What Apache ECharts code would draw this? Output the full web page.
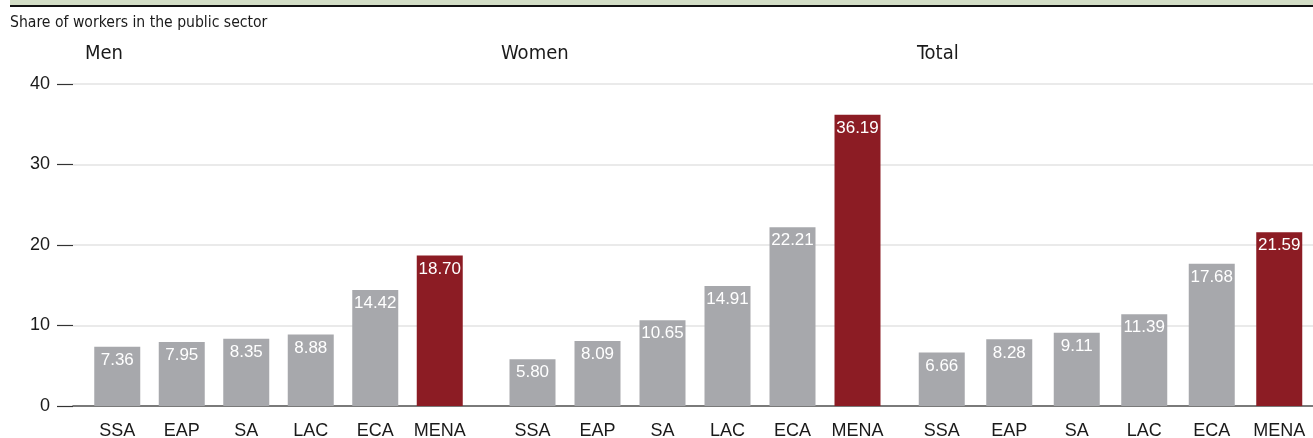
<!DOCTYPE html>
<html>
<head>
<meta charset="utf-8">
<script src="https://cdn.jsdelivr.net/npm/echarts@6/dist/echarts.min.js"></script>
<style>
  html, body { margin: 0; padding: 0; background: #fff; }
  #chart { width: 1313px; height: 438px; }
</style>
</head>
<body>
<div id="chart"></div>
<script>
// Regions shown along each panel's axis
const regions = ['SSA', 'EAP', 'SA', 'LAC', 'ECA', 'MENA'];

// Share of workers in the public sector (%), by sex
const menValues = [7.36, 7.95, 8.35, 8.88, 14.42, 18.70];
const womenValues = [5.80, 8.09, 10.65, 14.91, 22.21, 36.19];
const totalValues = [6.66, 8.28, 9.11, 11.39, 17.68, 21.59];

const panelTitles = ['Men', 'Women', 'Total'];
const yTicks = [0, 10, 20, 30, 40];

const GRAY = '#a7a8ac';
const RED = '#8c1c24';
const highlight = 'MENA';

const condensed = '"DejaVu Sans Condensed", "Liberation Sans Narrow", "DejaVu Sans", sans-serif';
const sans = '"Liberation Sans", Arial, sans-serif';

const TOP = 84, BOTTOM = 32;
const panels = [
  { left: 85, width: 387, values: menValues },
  { left: 500, width: 390, values: womenValues },
  { left: 908, width: 405, values: totalValues }
];

// Fixed plot rectangles: keep labels from resizing the panels
const grids = [{ left: 73, right: 0, top: TOP, bottom: BOTTOM, outerBoundsMode: 'none' }];
const xAxes = [{
  gridIndex: 0, type: 'value', min: 0, max: 1,
  axisLabel: { show: false }, axisTick: { show: false }, splitLine: { show: false },
  axisLine: { show: true, lineStyle: { color: '#555', width: 1.5 } }
}];
const yAxes = [{
  gridIndex: 0, type: 'value', min: yTicks[0], max: yTicks[yTicks.length - 1], interval: 10,
  axisLine: { show: false },
  axisTick: { show: true, length: 16, lineStyle: { color: '#333', width: 1.2 } },
  axisLabel: { margin: 23, fontSize: 18, color: '#1a1a1a', fontFamily: sans },
  splitLine: { show: true, lineStyle: { color: '#e3e3e3', width: 1.5 } }
}];
const series = [];

panels.forEach((p, i) => {
  const gi = i + 1;
  grids.push({ left: p.left, width: p.width, top: TOP, bottom: BOTTOM, outerBoundsMode: 'none' });
  xAxes.push({
    gridIndex: gi, type: 'category', data: regions,
    axisLine: { show: false }, axisTick: { show: false },
    axisLabel: { margin: 16, fontSize: 18, color: '#1a1a1a', fontFamily: sans, interval: 0 }
  });
  yAxes.push({ gridIndex: gi, type: 'value', min: 0, max: 40, show: false, splitLine: { show: false } });
  series.push({
    type: 'bar', xAxisIndex: gi, yAxisIndex: gi, barWidth: 46,
    data: p.values.map((v, k) => ({
      value: v,
      itemStyle: { color: regions[k] === highlight ? RED : GRAY }
    })),
    label: {
      show: true, position: 'insideTop', distance: 5,
      color: '#fff', fontSize: 17, fontFamily: sans,
      formatter: (d) => d.value.toFixed(2)
    },
    silent: true
  });
});

const titles = [
  { text: 'Share of workers in the public sector', left: 10, top: 15,
    textStyle: { fontSize: 15.6, fontWeight: 'normal', color: '#1a1a1a', fontFamily: condensed } }
].concat(panelTitles.map((t, i) => ({
  text: t, left: [85, 501, 917][i], top: 44,
  textStyle: { fontSize: 20, fontWeight: 'normal', color: '#1a1a1a', fontFamily: condensed }
})));
titles.forEach(t => { t.padding = 0; });

const chart = echarts.init(document.getElementById('chart'), null, { renderer: 'canvas' });
chart.setOption({
  animation: false,
  title: titles,
  grid: grids,
  xAxis: xAxes,
  yAxis: yAxes,
  series: series,
  graphic: [
    { type: 'rect', shape: { x: 10, y: 0, width: 1303, height: 5 }, style: { fill: '#d3dec6' } },
    { type: 'rect', shape: { x: 10, y: 5, width: 1303, height: 2 }, style: { fill: '#111' } }
  ]
});
</script>
</body>
</html>
